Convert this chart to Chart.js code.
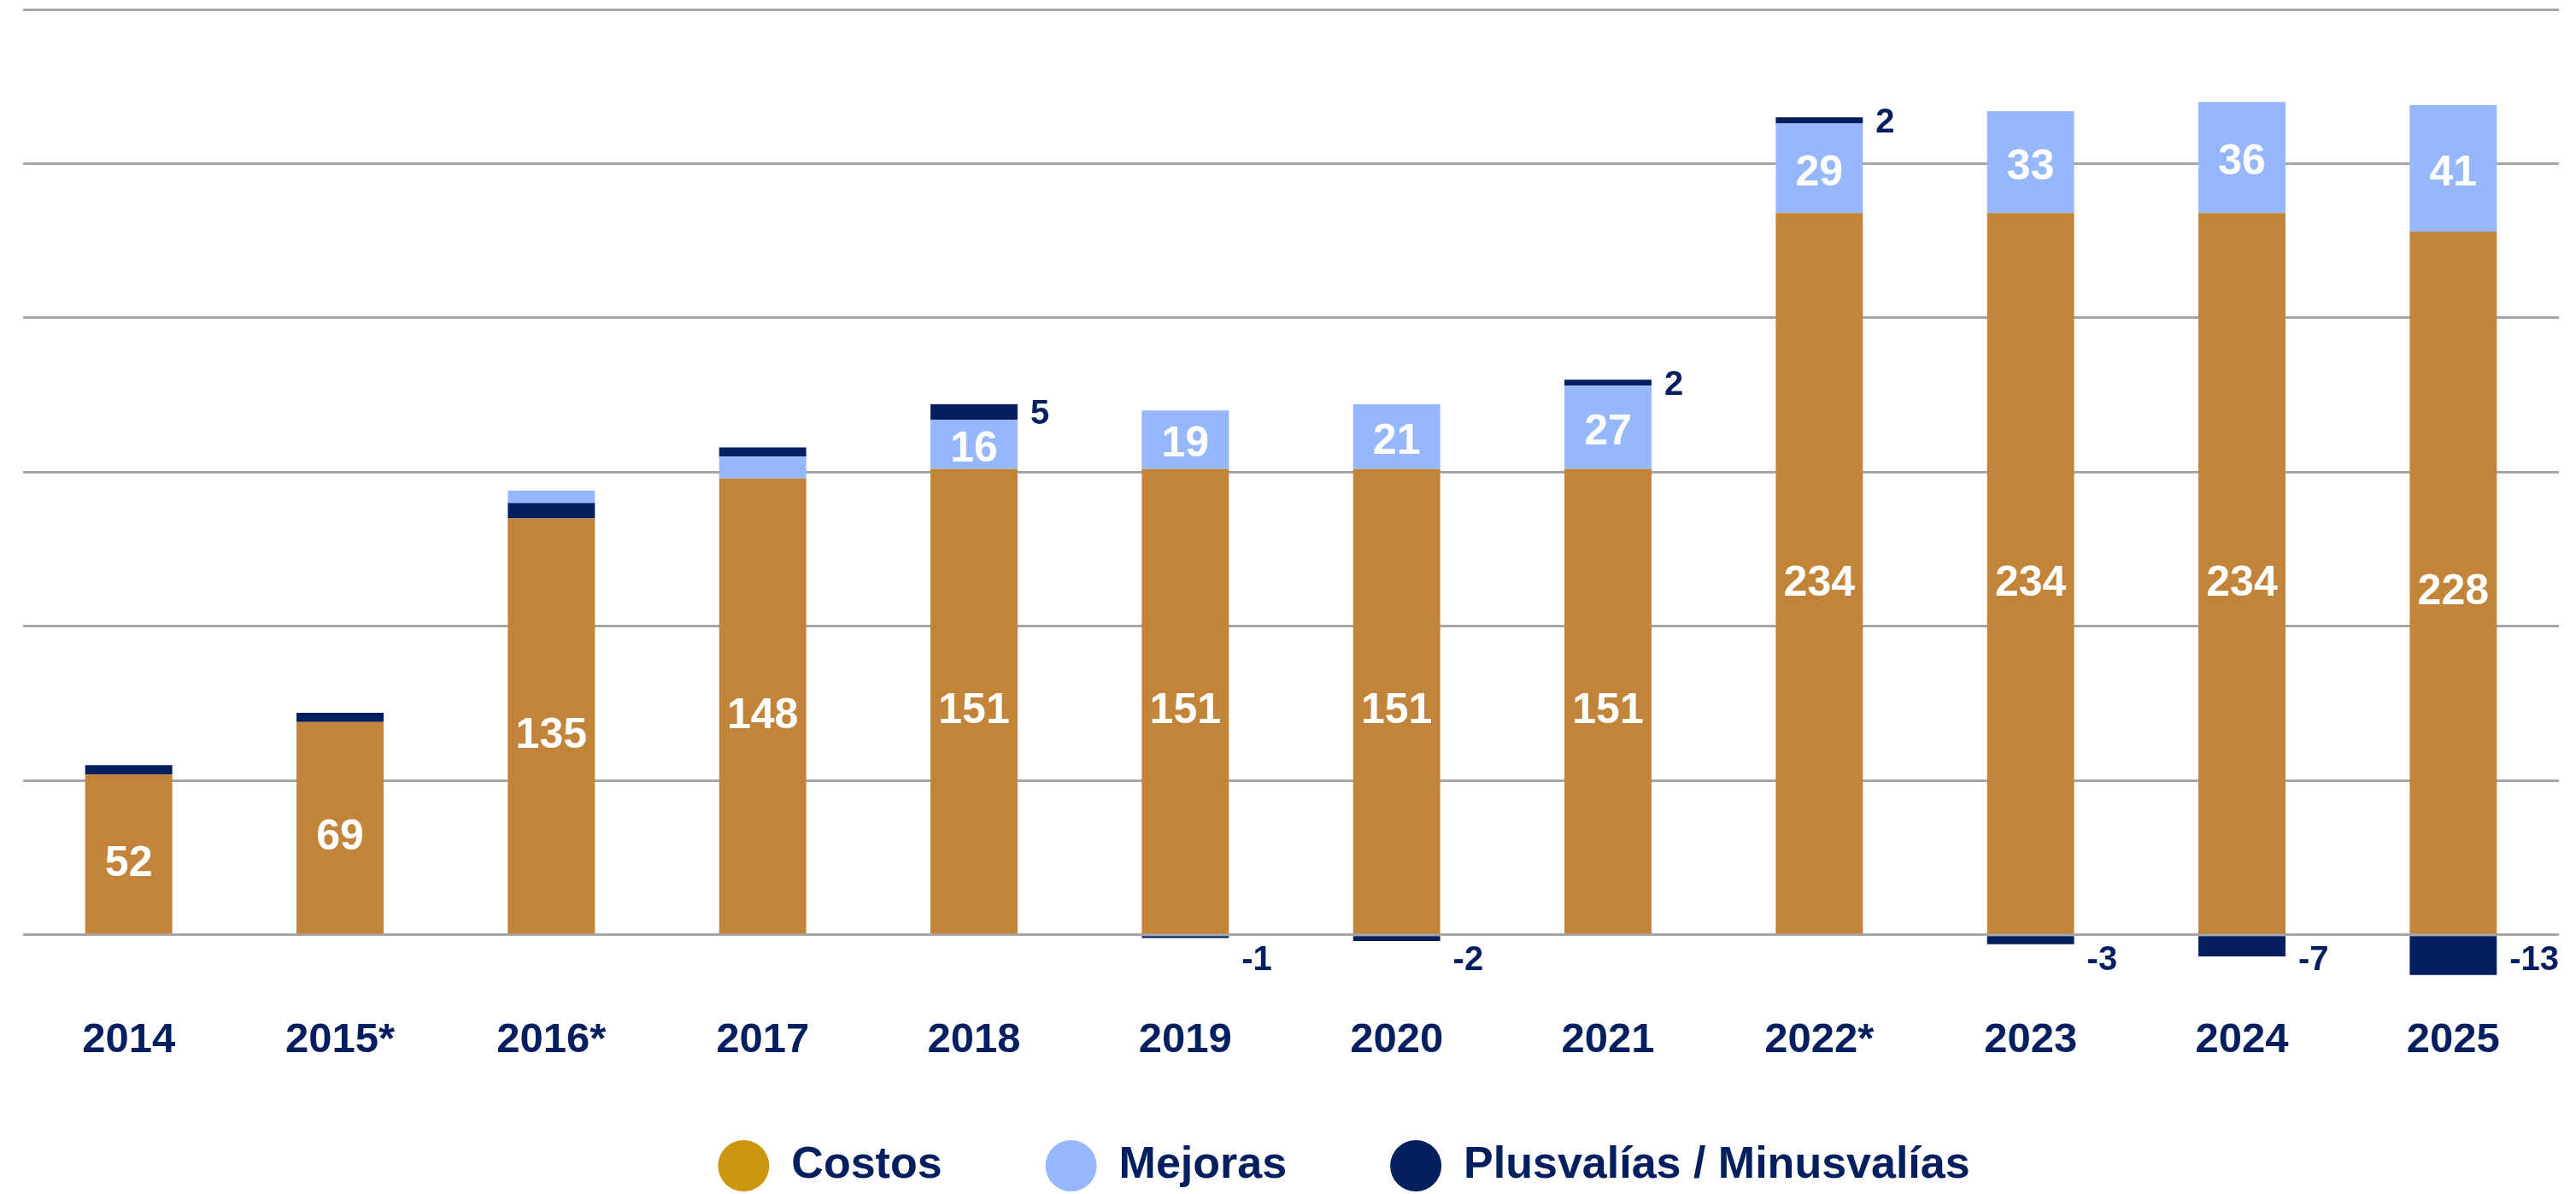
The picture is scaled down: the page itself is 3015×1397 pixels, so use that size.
<!DOCTYPE html>
<html><head><meta charset="utf-8">
<script src="https://cdn.jsdelivr.net/npm/chart.js@4.4.1/dist/chart.umd.min.js"></script>
<style>html,body{margin:0;padding:0;background:#fff;overflow:hidden}#wrap{width:3015px;height:1397px;position:relative}</style>
</head><body><div id="wrap"><canvas id="c" width="3015" height="1397"></canvas></div>
<script>
// ---- data ----
const categories = ['2014','2015*','2016*','2017','2018','2019','2020','2021','2022*','2023','2024','2025'];
const costos     = [52, 69, 135, 148, 151, 151, 151, 151, 234, 234, 234, 228];
const mejoras    = [null, null, 4, 7, 16, 19, 21, 27, 29, 33, 36, 41];
const plusvalias = [3, 3, 5, 3, 5, -1, -2, 2, 2, -3, -7, -13];
const plusBelowMejoras = ['2016*'];   // years where the plusvalía segment sits under mejoras
const labelledFrom = '2018';           // mejoras / plusvalías values are labelled from this year on
const yTicks = [0, 50, 100, 150, 200, 250, 300];
const yMin = -20;

// ---- styles ----
const COL_COSTOS = '#C28439', COL_COSTOS_LEGEND = '#CC960E', COL_MEJORAS = '#97B7FD', COL_PLUS = '#041F5F';
const NAVY = '#041F5F', GRID = '#A6A6A6';
const FONT = "'Liberation Sans', Arial, Helvetica, sans-serif";

// legend font: prefer a narrow face if installed
function hasFont(f){const c=document.createElement('canvas').getContext('2d');c.font="bold 60px monospace";const a=c.measureText('Plusvalías Mejoras').width;c.font="bold 60px '"+f+"', monospace";return c.measureText('Plusvalías Mejoras').width!==a;}
const narrow = hasFont('Liberation Sans Narrow');
const LEG_FONT = narrow ? "'Liberation Sans Narrow', 'Liberation Sans', sans-serif" : FONT;
const LEG_SIZE = narrow ? 62 : 52;
const LEG_PAD = 121;
const LEG_CENTER_Y = 1364;
const CANVAS_H = 1397, PLOT_BOTTOM = 1166;
const X_AXIS_H = 90;
const LEGEND_H = CANVAS_H - PLOT_BOTTOM - X_AXIS_H;
const LEGEND_SHIFT = 62;

const below = categories.map(c => plusBelowMejoras.includes(c));
const labelStart = categories.indexOf(labelledFrom);

const segmentLabels = {
  id: 'segmentLabels',
  afterDatasetsDraw(chart) {
    const c = chart.ctx;
    const y0 = chart.scales.y.getPixelForValue(0);
    c.save();
    chart.data.datasets.forEach((ds, di) => {
      const meta = chart.getDatasetMeta(di);
      meta.data.forEach((el, i) => {
        const v = ds.data[i];
        if (v === null || v === undefined) return;
        const p = el.getProps(['x','y','base','width'], true);
        const kind = ds.kind;
        if (kind !== 'costos' && i < labelStart) return;
        if (kind === 'plus') {
          const fs = 40;
          c.font = 'bold ' + fs + 'px ' + FONT;
          c.fillStyle = NAVY;
          c.textAlign = 'left';
          c.textBaseline = 'alphabetic';
          const yc = v >= 0 ? (p.y + p.base) / 2 : y0 + 27;
          c.fillText(String(v), p.x + p.width / 2 + 15, yc + fs * 0.358);
        } else {
          const fs = 50;
          c.font = 'bold ' + fs + 'px ' + FONT;
          c.fillStyle = '#FFFFFF';
          c.textAlign = 'center';
          c.textBaseline = 'alphabetic';
          const yc = (p.y + p.base) / 2 + (kind === 'costos' ? 8 : 2);
          c.fillText(String(v), p.x, yc + fs * 0.358);
        }
      });
    });
    c.restore();
  }
};

const legendPlace = {
  id: 'legendPlace',
  afterLayout(chart) {
    const lg = chart.legend;
    if (!lg) return;
    lg.left += LEGEND_SHIFT; lg.right += LEGEND_SHIFT;
    lg.top = LEG_CENTER_Y - LEG_PAD - LEG_SIZE / 2;
    lg.bottom = CANVAS_H;
    lg.height = lg.bottom - lg.top;
  }
};

new Chart(document.getElementById('c'), {
  type: 'bar',
  data: {
    labels: categories,
    datasets: [
      { label: 'Costos', kind: 'costos', data: costos, backgroundColor: COL_COSTOS, legendColor: COL_COSTOS_LEGEND },
      { label: 'Plusvalías / Minusvalías', kind: 'plus', inLegend: false,
        data: plusvalias.map((v, i) => below[i] ? v : null), backgroundColor: COL_PLUS },
      { label: 'Mejoras', kind: 'mejoras', data: mejoras, backgroundColor: COL_MEJORAS },
      { label: 'Plusvalías / Minusvalías', kind: 'plus',
        data: plusvalias.map((v, i) => below[i] ? null : v), backgroundColor: COL_PLUS }
    ]
  },
  options: {
    responsive: false,
    animation: false,
    devicePixelRatio: 1,
    layout: { padding: { top: 11, left: 27, right: 20, bottom: 0 } },
    datasets: { bar: { barPercentage: 0.412, categoryPercentage: 1, borderWidth: 0 } },
    scales: {
      x: {
        stacked: true,
        grid: { display: false, drawTicks: false },
        border: { display: false },
        ticks: { color: NAVY, font: { family: FONT, weight: 'bold', size: 49 }, padding: 22, maxRotation: 0, autoSkip: false },
        afterFit(s) { s.height = X_AXIS_H; }
      },
      y: {
        stacked: true,
        min: yMin,
        max: yTicks[yTicks.length - 1],
        afterBuildTicks(s) { s.ticks = yTicks.map(v => ({ value: v })); },
        ticks: { display: false },
        grid: { color: GRID, lineWidth: 3, drawTicks: false },
        border: { display: false },
        afterFit(s) { s.width = 0; }
      }
    },
    plugins: {
      tooltip: { enabled: false },
      legend: {
        position: 'bottom',
        maxHeight: LEGEND_H,
        labels: {
          usePointStyle: true,
          pointStyle: 'circle',
          pointStyleWidth: 60,
          boxHeight: 60 / Math.SQRT2,
          padding: LEG_PAD,
          color: NAVY,
          font: { family: LEG_FONT, weight: 'bold', size: LEG_SIZE },
          filter: (item, data) => data.datasets[item.datasetIndex].inLegend !== false,
          generateLabels(chart) {
            const items = Chart.defaults.plugins.legend.labels.generateLabels(chart);
            items.forEach(it => {
              const ds = chart.data.datasets[it.datasetIndex];
              it.fillStyle = ds.legendColor || ds.backgroundColor;
              it.strokeStyle = it.fillStyle;
              it.lineWidth = 0;
              it.fontColor = NAVY;
            });
            return items;
          }
        }
      }
    }
  },
  plugins: [segmentLabels, legendPlace]
});
</script>
</body></html>
